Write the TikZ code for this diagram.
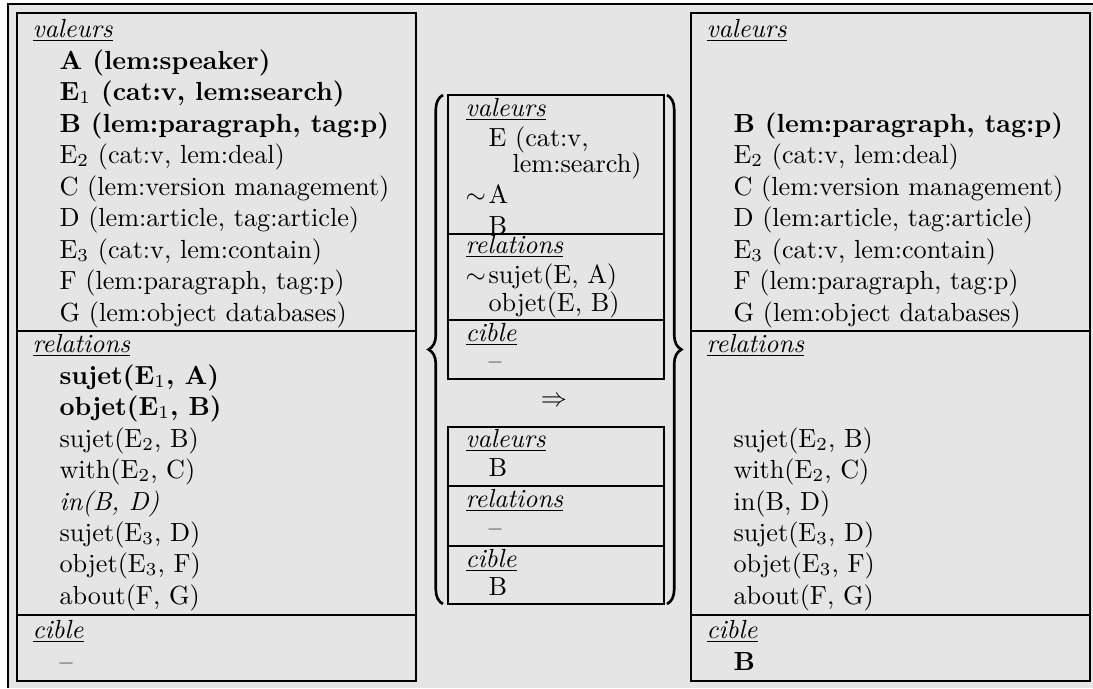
\documentclass[tikz,border=0pt]{standalone}
\usepackage{tikz}
\usetikzlibrary{decorations.pathreplacing}
\definecolor{fond}{gray}{0.9}

\begin{document}
\begin{tikzpicture}[x=0.3817pt, y=-0.3817pt, t/.style={anchor=base west, inner sep=0pt}, box/.style={draw, line width=1pt}, sep/.style={line width=0.8pt}, acc/.style={decorate, decoration={brace, amplitude=5.5pt}, line width=1pt}]
	\useasboundingbox (0,0) rectangle (1093,688);
	\fill[fond] (8,4) rectangle (1093,688);
	\draw[line width=0.4pt] (8,688) -- (8,4) -- (1093,4);
	% etat de depart
	\node[t] (lval) at (32,37) {\underline{\textit{valeurs}}};
	\node[t] (la) at (59,69) {\textbf{A (lem:speaker)}};
	\node[t] (le1) at (59,100) {\textbf{E$_1$ (cat:v, lem:search)}};
	\node[t] (lb) at (59,132) {\textbf{B (lem:paragraph, tag:p)}};
	\node[t] (le2) at (59,163) {E$_2$ (cat:v, lem:deal)};
	\node[t] (lc) at (59,195) {C (lem:version management)};
	\node[t] (ld) at (59,226) {D (lem:article, tag:article)};
	\node[t] (le3) at (59,258) {E$_3$ (cat:v, lem:contain)};
	\node[t] (lf) at (59,289) {F (lem:paragraph, tag:p)};
	\node[t] (lg) at (59,321) {G (lem:object databases)};
	\node[t] (lrel) at (32,352) {\underline{\textit{relations}}};
	\node[t] (lr1) at (59,384) {\textbf{sujet(E$_1$, A)}};
	\node[t] (lr2) at (59,415) {\textbf{objet(E$_1$, B)}};
	\node[t] (lr3) at (59,447) {sujet(E$_2$, B)};
	\node[t] (lr4) at (59,478) {with(E$_2$, C)};
	\node[t] (lr5) at (59,510) {\textit{in(B, D)}};
	\node[t] (lr6) at (59,541) {sujet(E$_3$, D)};
	\node[t] (lr7) at (59,572) {objet(E$_3$, F)};
	\node[t] (lr8) at (59,604) {about(F, G)};
	\node[t] (lcib) at (32,638) {\underline{\textit{cible}}};
	\node[t] (lcv) at (59,670) {--};
	\draw[box] (17,13) rectangle (416,681);
	\draw[sep] (17,331) -- (416,331);
	\draw[sep] (17,615) -- (416,615);
	% regle
	\node[t] (mval) at (465,116) {\underline{\textit{valeurs}}};
	\node[t] (me) at (488,146) {E (cat:v,};
	\node[t] (me2) at (512,172) {lem:search)};
	\node[t] (mt1) at (465,203) {$\sim$};
	\node[t] (ma) at (488,203) {A};
	\node[t] (mb) at (488,234) {B};
	\node[t] (mrel) at (465,253) {\underline{\textit{relations}}};
	\node[t] (mt2) at (465,283) {$\sim$};
	\node[t] (mr1) at (488,283) {sujet(E, A)};
	\node[t] (mr2) at (488,311) {objet(E, B)};
	\node[t] (mcib) at (465,341) {\underline{\textit{cible}}};
	\node[t] (mcv) at (488,369) {--};
	\draw[box] (448,95) rectangle (664,379);
	\draw[sep] (448,234) -- (664,234);
	\draw[sep] (448,320) -- (664,320);
	\node (impl) at (554,402) {$\Rightarrow$};
	\node[t] (nval) at (465,447) {\underline{\textit{valeurs}}};
	\node[t] (nb) at (488,476) {B};
	\node[t] (nrel) at (465,507) {\underline{\textit{relations}}};
	\node[t] (nrv) at (488,536) {--};
	\node[t] (ncib) at (465,567) {\underline{\textit{cible}}};
	\node[t] (ncv) at (488,595) {B};
	\draw[box] (448,427) rectangle (664,604);
	\draw[sep] (448,486) -- (664,486);
	\draw[sep] (448,546) -- (664,546);
	\draw[acc] (443,604) -- (443,95);
	\draw[acc] (667,95) -- (667,604);
	% etat d'arrivee
	\node[t] (rval) at (706,37) {\underline{\textit{valeurs}}};
	\node[t] (rb) at (733,132) {\textbf{B (lem:paragraph, tag:p)}};
	\node[t] (re2) at (733,163) {E$_2$ (cat:v, lem:deal)};
	\node[t] (rc) at (733,195) {C (lem:version management)};
	\node[t] (rd) at (733,226) {D (lem:article, tag:article)};
	\node[t] (re3) at (733,258) {E$_3$ (cat:v, lem:contain)};
	\node[t] (rf) at (733,289) {F (lem:paragraph, tag:p)};
	\node[t] (rg) at (733,321) {G (lem:object databases)};
	\node[t] (rrel) at (706,352) {\underline{\textit{relations}}};
	\node[t] (rr3) at (733,447) {sujet(E$_2$, B)};
	\node[t] (rr4) at (733,478) {with(E$_2$, C)};
	\node[t] (rr5) at (733,510) {in(B, D)};
	\node[t] (rr6) at (733,541) {sujet(E$_3$, D)};
	\node[t] (rr7) at (733,572) {objet(E$_3$, F)};
	\node[t] (rr8) at (733,604) {about(F, G)};
	\node[t] (rcib) at (706,638) {\underline{\textit{cible}}};
	\node[t] (rcv) at (733,670) {\textbf{B}};
	\draw[box] (691,13) rectangle (1090,681);
	\draw[sep] (691,331) -- (1090,331);
	\draw[sep] (691,615) -- (1090,615);
\end{tikzpicture}
\end{document}
